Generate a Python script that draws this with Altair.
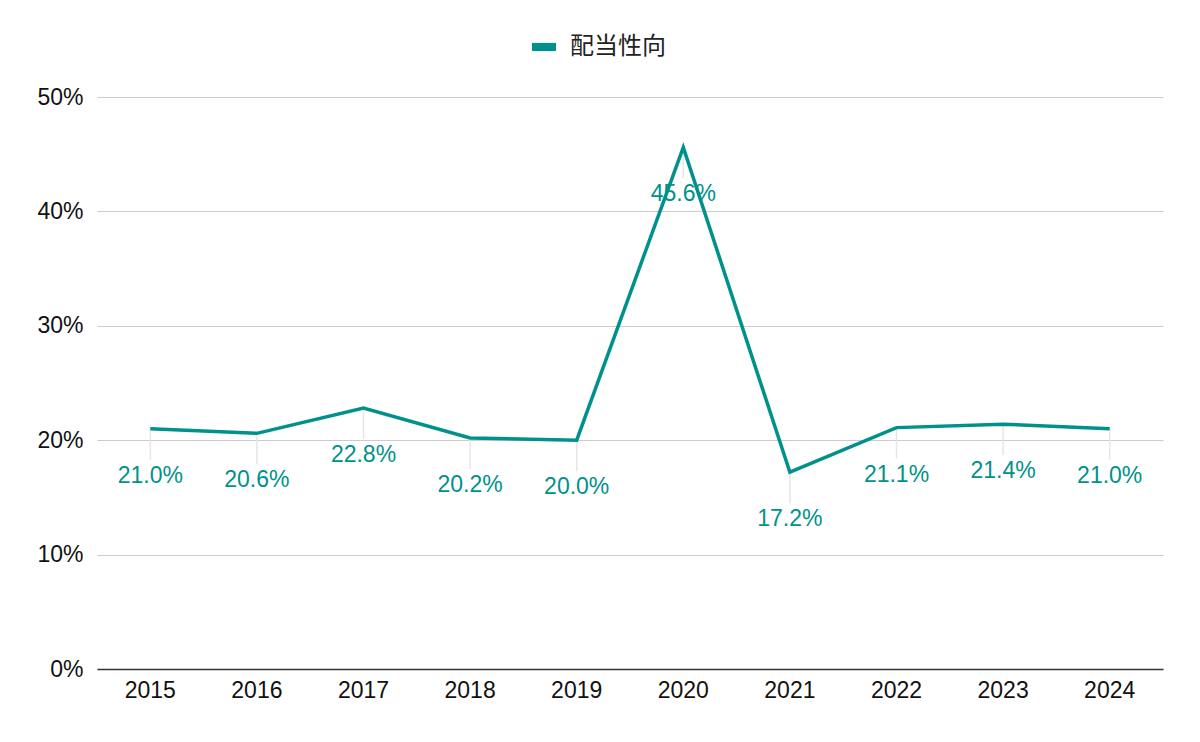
import altair as alt
import pandas as pd

years = ["2015", "2016", "2017", "2018", "2019", "2020", "2021", "2022", "2023", "2024"]
payout = [0.210, 0.206, 0.228, 0.202, 0.200, 0.456, 0.172, 0.211, 0.214, 0.210]
series_name = "配当性向"

df = pd.DataFrame({"year": years, "value": payout, "series": [series_name] * len(years)})

TEAL = "#00918b"
FONT = "Liberation Sans"

x = alt.X("year:N", sort=years, title=None,
          axis=alt.Axis(labelAngle=0, labelFontSize=23, labelColor="#111", labelPadding=10,
                        ticks=False, domainColor="#333", domainWidth=1.5, grid=False,
                        labelFont=FONT),
          scale=alt.Scale(paddingInner=0, paddingOuter=0))
y = alt.Y("value:Q", title=None,
          scale=alt.Scale(domain=[0, 0.5]),
          axis=alt.Axis(values=[0, 0.1, 0.2, 0.3, 0.4, 0.5], format=".0%", labelFontSize=23,
                        labelColor="#111", labelPadding=14, ticks=False, domain=False,
                        gridColor="#cccccc", gridWidth=1.2, labelFont=FONT))

base = alt.Chart(df)

leaders = base.mark_rule(color="#e6e6e6", strokeWidth=1.5, y2Offset=31).encode(
    x=x, y=y, y2=alt.Y2("value:Q"))

line = base.mark_line(strokeWidth=3.5, strokeJoin="miter").encode(
    x=x, y=y,
    color=alt.Color("series:N", scale=alt.Scale(range=[TEAL]),
                    legend=alt.Legend(title=None, orient="none", legendX=435, legendY=-62,
                                      symbolType="M-1,-0.34H1V0.34H-1Z", symbolSize=576,
                                      symbolFillColor=TEAL, symbolStrokeWidth=0,
                                      labelFontSize=24, labelColor="#222",
                                      labelFont="Noto Sans CJK JP", labelOffset=14)))

labels = base.mark_text(dy=47, fontSize=23, color=TEAL, baseline="middle", font=FONT).encode(
    x=x, y=y, text=alt.Text("value:Q", format=".1%"))

chart = alt.layer(leaders, line, labels).properties(
    width=1066, height=572,
    padding={"left": 89, "top": 89, "right": 20, "bottom": 50},
    autosize=alt.AutoSizeParams(type="none"),
    background="white",
).configure_view(stroke=None)

chart.save("out.html", embed_options={"renderer": "svg", "actions": False})
